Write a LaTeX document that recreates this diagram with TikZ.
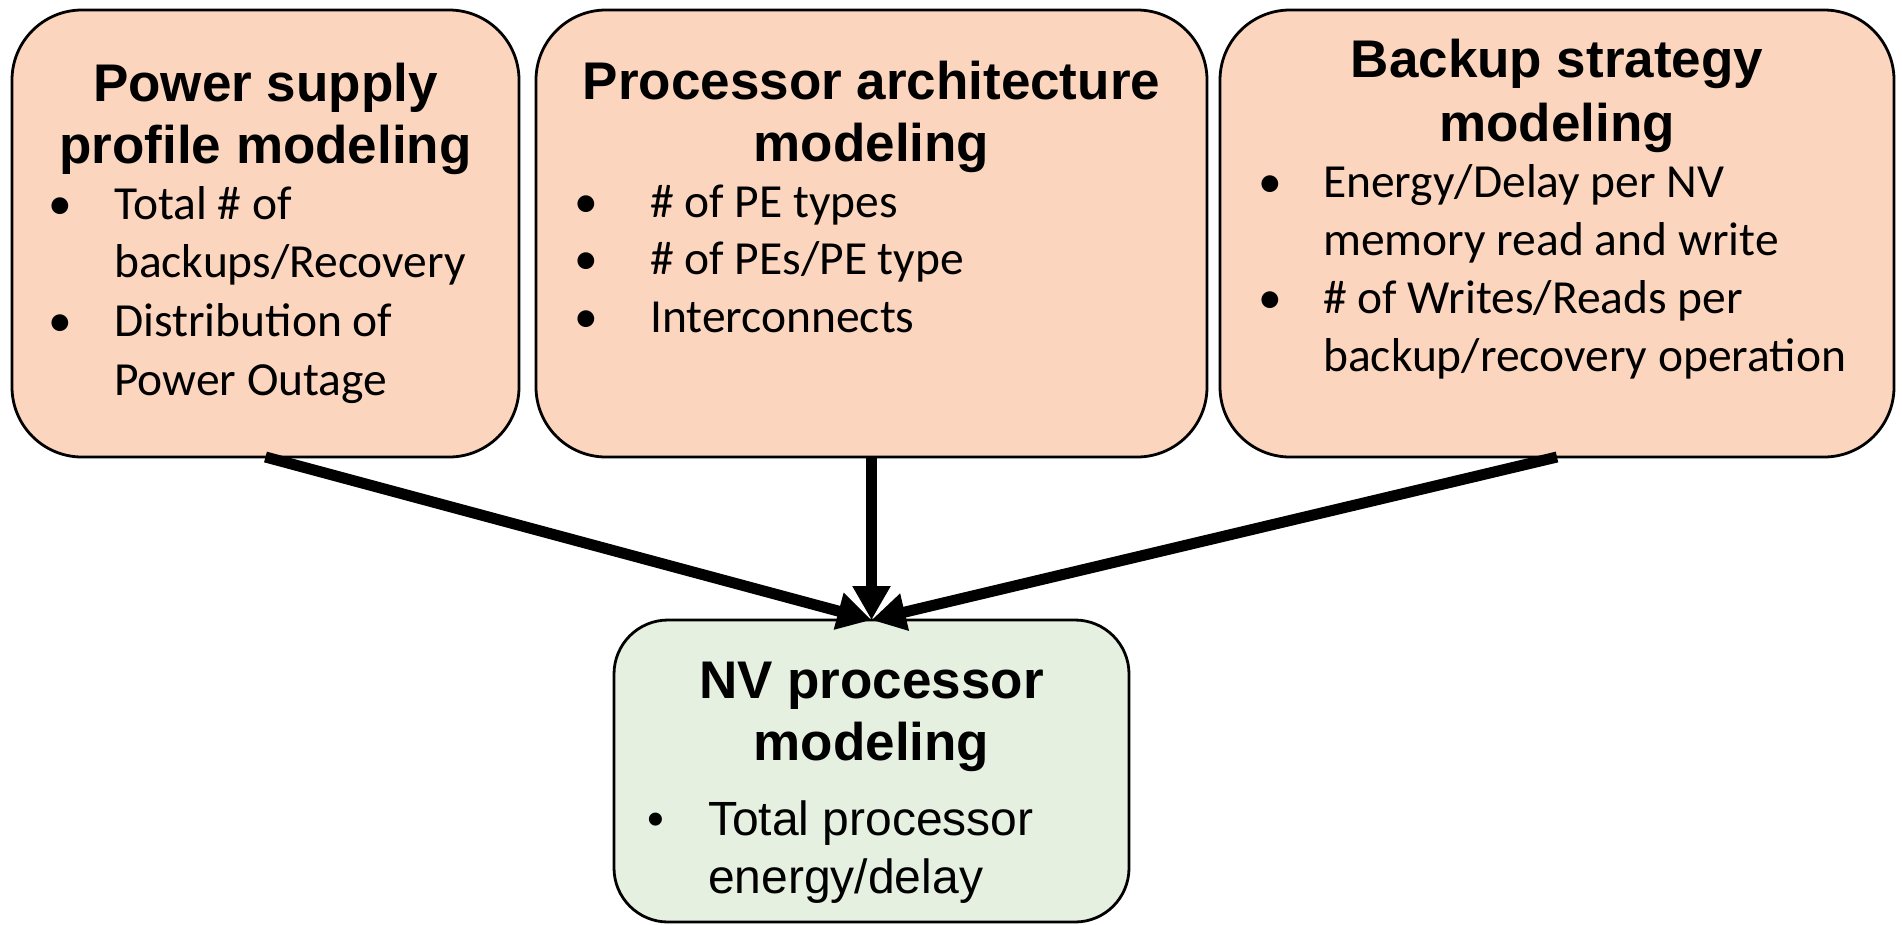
\documentclass[tikz,border=0pt]{standalone}
\usepackage{fontspec}
\setmainfont{Liberation Sans}
\newfontfamily\bodyfont{Carlito}
\usetikzlibrary{arrows.meta}
\definecolor{peach}{RGB}{252,213,190}
\definecolor{mint}{RGB}{230,240,224}

\begin{document}
\begin{tikzpicture}[x=1pt,y=-1pt,
  panel/.style={draw=black, line width=2.8pt, inner sep=0pt, outer sep=0pt},
  toppanel/.style={panel, fill=peach, rounded corners=70pt, minimum height=447pt},
  botpanel/.style={panel, fill=mint, rounded corners=54pt, minimum width=515pt, minimum height=302pt},
  heading/.style={inner sep=0pt, anchor=base, font=\fontsize{53}{63}\selectfont\bfseries},
  item/.style={inner sep=0pt, anchor=base west, font=\bodyfont\fontsize{47.5}{57}\selectfont},
  itemdot/.style={inner sep=0pt, anchor=base, font=\bodyfont\fontsize{47.5}{57}\selectfont},
  aitem/.style={inner sep=0pt, anchor=base west, font=\fontsize{48}{57}\selectfont},
  aitemdot/.style={inner sep=0pt, anchor=base, font=\fontsize{48}{57}\selectfont},
  feed/.style={line width=11pt, -{Triangle[length=34pt,width=36pt]}}
]
\useasboundingbox (0,0) rectangle (1902,924);
\fill[white] (0,0) rectangle (1902,924);

% panels
\node[toppanel, minimum width=507pt] (pwr) at (265.5,233.5) {};
\node[toppanel, minimum width=671pt] (arch) at (871.5,233.5) {};
\node[toppanel, minimum width=674pt] (bkp) at (1557,233.5) {};
\node[botpanel] (nvp) at (871.5,771) {};

% power supply profile panel
\node[heading] (pwrA) at (265.5,101) {Power supply};
\node[heading] (pwrB) at (265.5,163) {profile modeling};
\node[itemdot] (pwrD1) at (60,219) {•};
\node[item] (pwr1) at (114,219) {Total \# of};
\node[item] (pwr2) at (114,277) {backups/Recovery};
\node[itemdot] (pwrD2) at (60,336) {•};
\node[item] (pwr3) at (114,336) {Distribution of};
\node[item] (pwr4) at (114,395) {Power Outage};

% processor architecture panel
\node[heading] (archA) at (871.5,99) {Processor architecture};
\node[heading] (archB) at (871.5,161) {modeling};
\node[itemdot] (archD1) at (586,217) {•};
\node[item] (arch1) at (650,217) {\# of PE types};
\node[itemdot] (archD2) at (586,274) {•};
\node[item] (arch2) at (650,274) {\# of PEs/PE type};
\node[itemdot] (archD3) at (586,332) {•};
\node[item] (arch3) at (650,332) {Interconnects};

% backup strategy panel
\node[heading] (bkpA) at (1557,77) {Backup strategy};
\node[heading] (bkpB) at (1557,141) {modeling};
\node[itemdot] (bkpD1) at (1270,197) {•};
\node[item] (bkp1) at (1323,197) {Energy/Delay per NV};
\node[item] (bkp2) at (1323,255) {memory read and write};
\node[itemdot] (bkpD2) at (1270,313) {•};
\node[item] (bkp3) at (1323,313) {\# of Writes/Reads per};
\node[item] (bkp4) at (1323,371) {backup/recovery operation};

% NV processor panel
\node[heading] (nvpA) at (871.5,698) {NV processor};
\node[heading] (nvpB) at (871.5,760) {modeling};
\node[aitemdot] (nvpD1) at (656,835) {•};
\node[aitem] (nvp1) at (708,835) {Total processor};
\node[aitem] (nvp2) at (708,893) {energy/delay};

% connectors
\draw[feed] (pwr.south) -- (nvp.north);
\draw[feed] (arch.south) -- (nvp.north);
\draw[feed] (bkp.south) -- (nvp.north);
\end{tikzpicture}
\end{document}
